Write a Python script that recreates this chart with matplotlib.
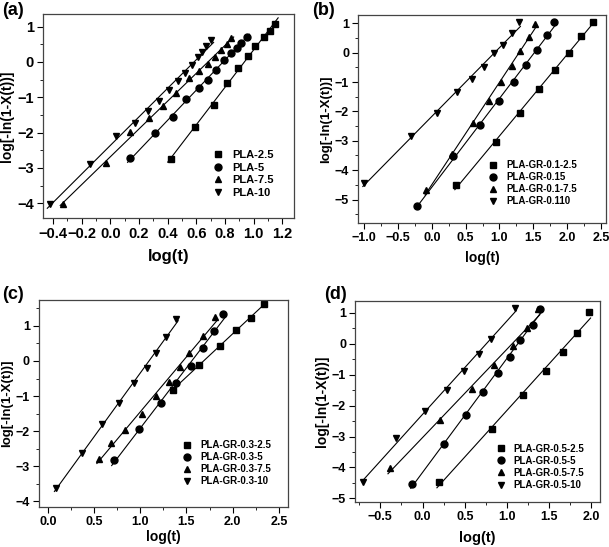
import numpy as np
import matplotlib
matplotlib.use('Agg')
import matplotlib.pyplot as plt
from matplotlib.ticker import MultipleLocator

plt.rcParams['font.family'] = ['Liberation Sans', 'DejaVu Sans']
plt.rcParams['font.weight'] = 'bold'
plt.rcParams['axes.labelweight'] = 'bold'

markers = ['s', 'o', '^', 'v']
ylab = 'log[-ln(1-X(t))]'

# --- (a) ---
a_labels = ['PLA-2.5', 'PLA-5', 'PLA-7.5', 'PLA-10']
a_x = [
    [0.42, 0.59, 0.72, 0.81, 0.89, 0.96, 1.01, 1.07, 1.11, 1.15],
    [0.14, 0.31, 0.44, 0.53, 0.62, 0.68, 0.74, 0.79, 0.84, 0.88, 0.91, 0.95],
    [-0.33, -0.03, 0.14, 0.27, 0.37, 0.46, 0.55, 0.62, 0.68, 0.73, 0.77, 0.81, 0.84],
    [-0.42, -0.14, 0.04, 0.17, 0.26, 0.34, 0.41, 0.47, 0.52, 0.57, 0.61, 0.64, 0.67, 0.70],
]
a_y = [
    [-2.75, -1.83, -1.22, -0.61, -0.17, 0.18, 0.45, 0.72, 0.89, 1.07],
    [-2.72, -2.02, -1.56, -1.04, -0.74, -0.51, -0.22, 0.05, 0.26, 0.40, 0.55, 0.70],
    [-4.02, -2.87, -1.98, -1.60, -1.25, -0.88, -0.46, -0.27, -0.06, 0.15, 0.33, 0.52, 0.68],
    [-4.02, -2.89, -2.09, -1.74, -1.38, -1.10, -0.80, -0.54, -0.30, -0.08, 0.13, 0.28, 0.44, 0.61],
]

# --- (b) ---
b_labels = ['PLA-GR-0.1-2.5', 'PLA-GR-0.15', 'PLA-GR-0.1-7.5', 'PLA-GR-0.110']
b_x = [
    [0.36, 0.95, 1.30, 1.59, 1.82, 2.03, 2.20, 2.38],
    [-0.22, 0.32, 0.71, 1.00, 1.22, 1.40, 1.56, 1.70, 1.81],
    [-0.08, 0.30, 0.61, 0.85, 1.02, 1.18, 1.31, 1.43, 1.53],
    [-1.0, -0.31, 0.08, 0.37, 0.60, 0.77, 0.92, 1.06, 1.18, 1.29],
]
b_y = [
    [-4.52, -3.03, -2.05, -1.25, -0.60, 0.00, 0.57, 1.03],
    [-5.23, -3.52, -2.45, -1.65, -0.98, -0.42, 0.10, 0.60, 1.03],
    [-4.66, -3.46, -2.41, -1.64, -1.00, -0.45, 0.05, 0.55, 0.98],
    [-4.43, -2.85, -2.05, -1.33, -0.88, -0.50, -0.02, 0.28, 0.66, 1.03],
]

# --- (c) ---
c_labels = ['PLA-GR-0.3-2.5', 'PLA-GR-0.3-5', 'PLA-GR-0.3-7.5', 'PLA-GR-0.3-10']
c_x = [
    [1.35, 1.64, 1.86, 2.04, 2.20, 2.34],
    [0.71, 0.99, 1.22, 1.39, 1.55, 1.68, 1.80, 1.90],
    [0.55, 0.68, 0.83, 1.02, 1.17, 1.31, 1.43, 1.53, 1.68, 1.81],
    [0.09, 0.37, 0.59, 0.77, 0.93, 1.07, 1.17, 1.28, 1.39],
]
c_y = [
    [-0.82, -0.12, 0.44, 0.88, 1.23, 1.63],
    [-2.83, -1.93, -1.21, -0.63, -0.13, 0.36, 0.84, 1.35],
    [-2.80, -2.34, -1.96, -1.50, -0.99, -0.60, -0.17, 0.23, 0.70, 1.24],
    [-3.62, -2.61, -1.80, -1.20, -0.64, -0.19, 0.24, 0.68, 1.20],
]

# --- (d) ---
d_labels = ['PLA-GR-0.5-2.5', 'PLA-GR-0.5-5', 'PLA-GR-0.5-7.5', 'PLA-GR-0.5-10']
d_x = [
    [0.19, 0.82, 1.19, 1.46, 1.66, 1.83, 1.97],
    [-0.12, 0.25, 0.52, 0.72, 0.89, 1.03, 1.15, 1.31, 1.39],
    [-0.39, 0.21, 0.58, 0.85, 1.07, 1.24, 1.37],
    [-0.70, -0.32, 0.03, 0.29, 0.49, 0.67, 0.81, 1.09],
]
d_y = [
    [-4.46, -2.77, -1.67, -0.89, -0.25, 0.34, 1.03],
    [-4.53, -3.23, -2.29, -1.55, -0.94, -0.41, 0.12, 0.61, 1.13],
    [-4.03, -2.48, -1.46, -0.70, -0.08, 0.51, 1.12],
    [-4.46, -3.06, -2.18, -1.51, -0.89, -0.32, 0.16, 1.15],
]


def panel(ax, xs, ys, labels, xlim, ylim, xstep, tfs, xfs, yfs, legpos, legfs, lpad):
    for x, y, m, lab in zip(xs, ys, markers, labels):
        x = np.array(x)
        y = np.array(y)
        k, b = np.polyfit(x, y, 1)
        xx = np.array([x.min() - 0.02, x.max() + 0.02])
        ax.plot(xx, k * xx + b, color='black', lw=0.8)
        ax.plot(x, y, marker=m, color='black', ms=5, ls='none', label=lab)
    ax.set_xlim(xlim)
    ax.set_ylim(ylim)
    ax.xaxis.set_major_locator(MultipleLocator(xstep))
    ax.xaxis.set_minor_locator(MultipleLocator(xstep / 2))
    ax.yaxis.set_major_locator(MultipleLocator(1))
    ax.yaxis.set_minor_locator(MultipleLocator(0.5))
    ax.tick_params(which='major', direction='out', length=4, width=0.8,
                   labelsize=tfs, top=False, right=False, pad=2.5)
    ax.tick_params(which='minor', direction='out', length=2, width=0.6,
                   top=False, right=False)
    for s in ax.spines.values():
        s.set_color('#444444')
        s.set_linewidth(0.9)
    ax.set_xlabel('log(t)', fontsize=xfs, labelpad=lpad)
    ax.set_ylabel(ylab, fontsize=yfs, labelpad=2)
    ax.legend(loc='lower left', bbox_to_anchor=legpos, frameon=False,
              fontsize=legfs, handlelength=0.8, handletextpad=0.9,
              labelspacing=0.22, borderpad=0, borderaxespad=0)


fig = plt.figure(figsize=(6.09, 5.47), dpi=100)
ax_a = fig.add_axes([0.0706, 0.6015, 0.412, 0.373])
ax_b = fig.add_axes([0.588, 0.5923, 0.407, 0.380])
ax_c = fig.add_axes([0.064, 0.0731, 0.409, 0.378])
ax_d = fig.add_axes([0.583, 0.0823, 0.402, 0.367])

panel(ax_a, a_x, a_y, a_labels, (-0.47, 1.28), (-4.42, 1.36), 0.2, 10.5, 12, 10, (0.68, 0.10), 8, 6)
panel(ax_b, b_x, b_y, b_labels, (-1.09, 2.575), (-5.8, 1.28), 0.5, 9, 10, 9.5, (0.53, 0.08), 7, 5)
panel(ax_c, c_x, c_y, c_labels, (-0.097, 2.6), (-4.16, 1.73), 0.5, 9, 10, 9.5, (0.58, 0.10), 7, 1.5)
panel(ax_d, d_x, d_y, d_labels, (-0.8, 2.1), (-5.12, 1.38), 0.5, 9, 10.5, 10, (0.58, 0.06), 7, 6)

fig.text(0.003, 0.997, '(a)', fontsize=13, fontweight='bold', va='top')
fig.text(0.513, 0.997, '(b)', fontsize=13, fontweight='bold', va='top')
fig.text(0.003, 0.477, '(c)', fontsize=13, fontweight='bold', va='top')
fig.text(0.533, 0.477, '(d)', fontsize=13, fontweight='bold', va='top')

fig.savefig('out.png', dpi=100)
